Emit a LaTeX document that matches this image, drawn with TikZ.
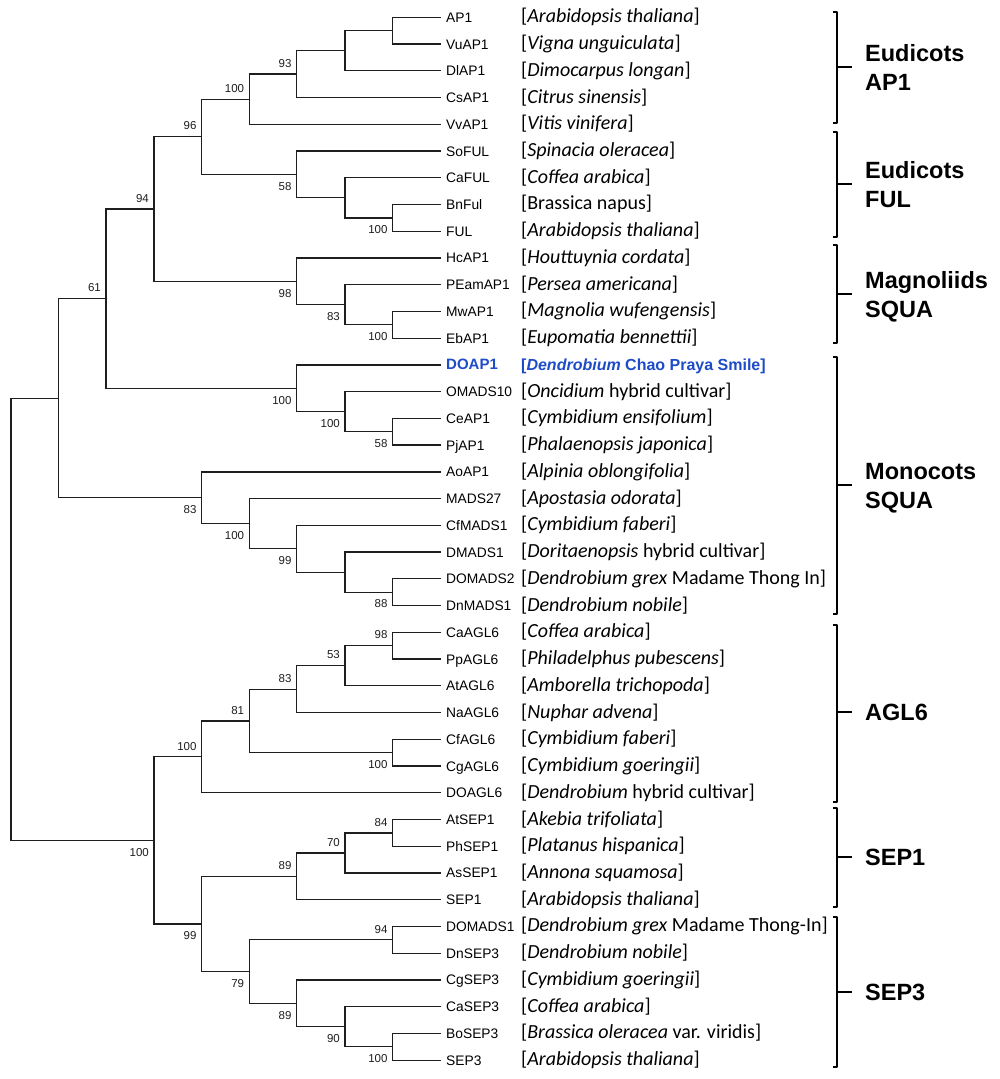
\documentclass[tikz,border=0pt]{standalone}
\usepackage{fontspec}
\setmainfont{Liberation Sans}
\newfontfamily\spfont{Carlito}
\usetikzlibrary{calc}
\definecolor{doblue}{RGB}{30,75,200}
\definecolor{treeline}{RGB}{30,30,30}
\newcommand\leafxy[1]{\coordinate (l#1) at (441,{17.3+26.74*#1});}
\newcommand\leaf[3]{\leafxy{#1}
  \node[leafname] (ln#1) at ($(l#1)+(5,5)$) {#2};
  \node[species] (sp#1) at ($(l#1)+(80,5.5)$) {#3};}
\newcommand\inode[4]{\path let \p1=($(#3)!.5!(#4)$) in (#2pt,\y1) coordinate (#1);
  \draw[branch] (#3) -| (#1) |- (#4);}
\newcommand\bsu[2]{\node[bootup] (b#1) at ($(#1)+(-5,-6.5)$) {#2};}
\newcommand\bsd[2]{\node[bootdn] (b#1) at ($(#1)+(-5,7.5)$) {#2};}
\newcommand\grpbr[4]{\coordinate (#4t) at (837,#1); \coordinate (#4b) at (837,#2); \coordinate (#4m) at (837,#3);
  \coordinate (#4tk) at (851.5,#3);
  \draw[bracketline] ($(#4t)+(-4,0)$) -- (#4t) -- (#4b) -- ($(#4b)+(-4,0)$);
  \draw[bracketline] (#4m) -- (#4tk);}
\begin{document}
\begin{tikzpicture}[x=1pt,y=-1pt,
  branch/.style={draw=treeline,line width=1.3pt},
  leafname/.style={anchor=base west,inner sep=0pt,font=\fontsize{13.8}{15}\selectfont},
  species/.style={anchor=base west,inner sep=0pt,font=\spfont\fontsize{20}{22}\selectfont},
  boot/.style={inner sep=0pt,text=treeline,font=\fontsize{11.5}{13}\selectfont},
  bootup/.style={boot,anchor=south east},
  bootdn/.style={boot,anchor=north east},
  grp/.style={anchor=base west,inner sep=0pt,font=\bfseries\fontsize{23.5}{28}\selectfont},
  bracketline/.style={draw=black,line width=2pt,line join=round}]
\useasboundingbox[fill=white] (0,0) rectangle (1000,1079);
% leaves
\leaf{0}{AP1}{[\textit{Arabidopsis thaliana}]}
\leaf{1}{VuAP1}{[\textit{Vigna unguiculata}]}
\leaf{2}{DlAP1}{[\textit{Dimocarpus longan}]}
\leaf{3}{CsAP1}{[\textit{Citrus sinensis}]}
\leaf{4}{VvAP1}{[\textit{Vitis vinifera}]}
\leaf{5}{SoFUL}{[\textit{Spinacia oleracea}]}
\leaf{6}{CaFUL}{[\textit{Coffea arabica}]}
\leaf{7}{BnFul}{[Brassica napus]}
\leaf{8}{FUL}{[\textit{Arabidopsis thaliana}]}
\leaf{9}{HcAP1}{[\textit{Houttuynia cordata}]}
\leaf{10}{PEamAP1}{[\textit{Persea americana}]}
\leaf{11}{MwAP1}{[\textit{Magnolia wufengensis}]}
\leaf{12}{EbAP1}{[\textit{Eupomatia bennettii}]}
\leafxy{13}
\node[leafname,font=\bfseries\fontsize{15}{17}\selectfont,text=doblue] (ln13) at ($(l13)+(5,5)$) {DOAP1};
\node[leafname,font=\bfseries\fontsize{16}{18}\selectfont,text=doblue] (sp13) at ($(l13)+(80,5.5)$) {[\textit{Dendrobium} Chao Praya Smile]};
\leaf{14}{OMADS10}{[\textit{Oncidium} hybrid cultivar]}
\leaf{15}{CeAP1}{[\textit{Cymbidium ensifolium}]}
\leaf{16}{PjAP1}{[\textit{Phalaenopsis japonica}]}
\leaf{17}{AoAP1}{[\textit{Alpinia oblongifolia}]}
\leaf{18}{MADS27}{[\textit{Apostasia odorata}]}
\leaf{19}{CfMADS1}{[\textit{Cymbidium faberi}]}
\leaf{20}{DMADS1}{[\textit{Doritaenopsis} hybrid cultivar]}
\leaf{21}{DOMADS2}{[\textit{Dendrobium grex} Madame Thong In]}
\leaf{22}{DnMADS1}{[\textit{Dendrobium nobile}]}
\leaf{23}{CaAGL6}{[\textit{Coffea arabica}]}
\leaf{24}{PpAGL6}{[\textit{Philadelphus pubescens}]}
\leaf{25}{AtAGL6}{[\textit{Amborella trichopoda}]}
\leaf{26}{NaAGL6}{[\textit{Nuphar advena}]}
\leaf{27}{CfAGL6}{[\textit{Cymbidium faberi}]}
\leaf{28}{CgAGL6}{[\textit{Cymbidium goeringii}]}
\leaf{29}{DOAGL6}{[\textit{Dendrobium} hybrid cultivar]}
\leaf{30}{AtSEP1}{[\textit{Akebia trifoliata}]}
\leaf{31}{PhSEP1}{[\textit{Platanus hispanica}]}
\leaf{32}{AsSEP1}{[\textit{Annona squamosa}]}
\leaf{33}{SEP1}{[\textit{Arabidopsis thaliana}]}
\leaf{34}{DOMADS1}{[\textit{Dendrobium grex} Madame Thong-In]}
\leaf{35}{DnSEP3}{[\textit{Dendrobium nobile}]}
\leaf{36}{CgSEP3}{[\textit{Cymbidium goeringii}]}
\leaf{37}{CaSEP3}{[\textit{Coffea arabica}]}
\leaf{38}{BoSEP3}{[\textit{Brassica oleracea} var. viridis]}
\leaf{39}{SEP3}{[\textit{Arabidopsis thaliana}]}
% internal nodes
\inode{na}{392.7}{l0}{l1}
\inode{nb}{345}{na}{l2}
\inode{nA93}{296.7}{nb}{l3}
\inode{nA100}{249.3}{nA93}{l4}
\inode{nc}{392.7}{l7}{l8}
\inode{nd}{345}{l6}{nc}
\inode{nF58}{296.7}{l5}{nd}
\inode{n96}{201.7}{nA100}{nF58}
\inode{ne}{392.7}{l11}{l12}
\inode{nM83}{345}{l10}{ne}
\inode{nM98}{296.7}{l9}{nM83}
\inode{n94}{154}{n96}{nM98}
\inode{nf}{392.7}{l15}{l16}
\inode{ng}{345}{l14}{nf}
\inode{nh}{296.7}{l13}{ng}
\inode{n61}{106}{n94}{nh}
\inode{ni}{392.7}{l21}{l22}
\inode{nj}{345}{l20}{ni}
\inode{n99a}{296.7}{l19}{nj}
\inode{n100b}{249.3}{l18}{n99a}
\inode{n83b}{201.7}{l17}{n100b}
\inode{nk}{58.7}{n61}{n83b}
\inode{n98b}{392.7}{l23}{l24}
\inode{n53}{345}{n98b}{l25}
\inode{n83c}{296.7}{n53}{l26}
\inode{n100c}{392.7}{l27}{l28}
\inode{n81}{249.3}{n83c}{n100c}
\inode{n100d}{201.7}{n81}{l29}
\inode{n84}{392.7}{l30}{l31}
\inode{n70}{345}{n84}{l32}
\inode{n89a}{296.7}{n70}{l33}
\inode{n94b}{392.7}{l34}{l35}
\inode{n100e}{392.7}{l38}{l39}
\inode{n90}{345}{l37}{n100e}
\inode{n89b}{296.7}{l36}{n90}
\inode{n79}{249.3}{n94b}{n89b}
\inode{n99b}{201.7}{n89a}{n79}
\inode{n100f}{154}{n100d}{n99b}
\inode{root}{11}{nk}{n100f}
% bootstrap values
\bsu{nA93}{93}\bsu{nA100}{100}\bsu{n96}{96}\bsu{n94}{94}\bsu{n61}{61}
\bsu{n98b}{98}\bsu{n53}{53}\bsu{n83c}{83}\bsu{n81}{81}\bsu{n100d}{100}
\bsu{n84}{84}\bsu{n70}{70}\bsu{n89a}{89}\bsu{n94b}{94}
\bsd{nc}{100}\bsd{nF58}{58}\bsd{nM98}{98}\bsd{nM83}{83}\bsd{ne}{100}
\bsd{nh}{100}\bsd{ng}{100}\bsd{nf}{58}\bsd{ni}{88}\bsd{n99a}{99}
\bsd{n100b}{100}\bsd{n83b}{83}\bsd{n100c}{100}\bsd{n100f}{100}
\bsd{n99b}{99}\bsd{n79}{79}\bsd{n89b}{89}\bsd{n90}{90}\bsd{n100e}{100}
% group brackets
\grpbr{11.7}{122.7}{66.7}{gA}
\grpbr{131.7}{236.7}{184}{gB}
\grpbr{245.3}{342.7}{294}{gC}
\grpbr{356.7}{614}{485}{gD}
\grpbr{625}{801.7}{712.3}{gE}
\grpbr{808.3}{906.7}{857.3}{gF}
\grpbr{917.3}{1067.3}{992.3}{gG}
\node[grp] (tA1) at (865,{66.7-5.5}) {Eudicots};
\node[grp] (tA2) at (865,{66.7+23.5}) {AP1};
\node[grp] (tB1) at (865,{184-5.5}) {Eudicots};
\node[grp] (tB2) at (865,{184+23.5}) {FUL};
\node[grp] (tC1) at (865,{294-5.5}) {Magnoliids};
\node[grp] (tC2) at (865,{294+23.5}) {SQUA};
\node[grp] (tD1) at (865,{485-5.5}) {Monocots};
\node[grp] (tD2) at (865,{485+23.5}) {SQUA};
\node[grp] (tE) at (865,{712.3+8.5}) {AGL6};
\node[grp] (tF) at (865,{857.3+8.5}) {SEP1};
\node[grp] (tG) at (865,{992.3+8.5}) {SEP3};
\end{tikzpicture}
\end{document}
